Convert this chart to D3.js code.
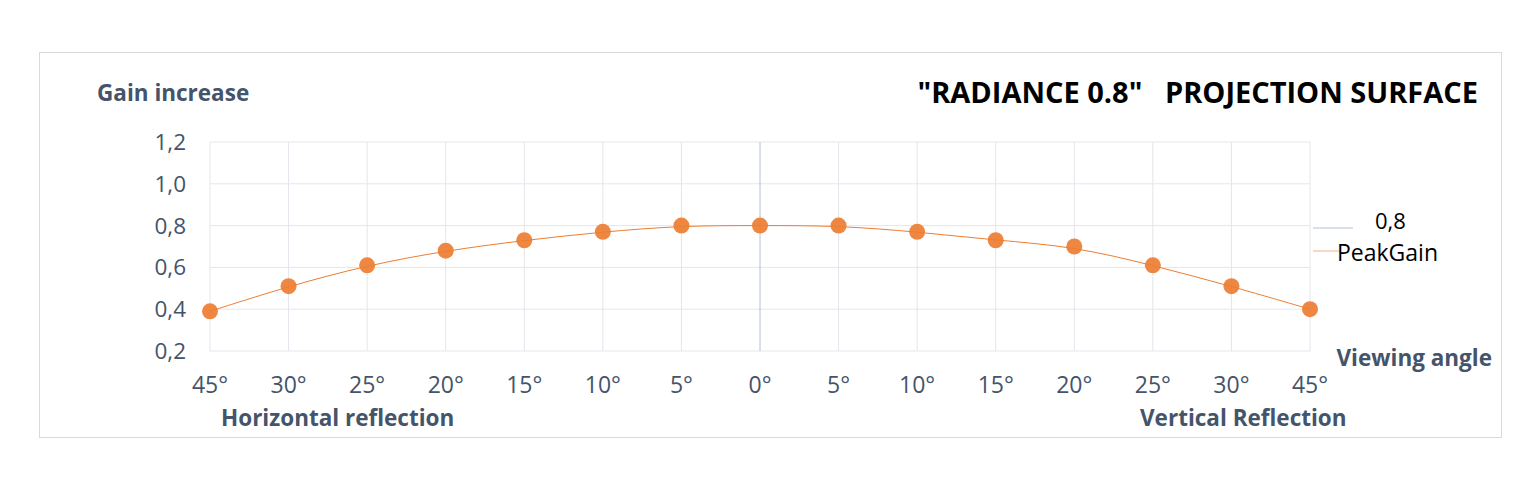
<!DOCTYPE html>
<html><head><meta charset="utf-8">
<script src="https://cdn.jsdelivr.net/npm/d3@7"></script>
<style>body{margin:0;background:#fff;} svg{display:block;}</style>
</head><body>
<svg id="c" width="1530" height="489"></svg>
<script>
const categories = ["45°","30°","25°","20°","15°","10°","5°","0°","5°","10°","15°","20°","25°","30°","45°"];
const gain = [0.39,0.51,0.61,0.68,0.73,0.77,0.80,0.80,0.80,0.77,0.73,0.70,0.61,0.51,0.40];
const yTicks = [0.2,0.4,0.6,0.8,1.0,1.2];
const legendItems = ["0,8","PeakGain"];

const svg = d3.select("#c");
const font = "'Open Sans', sans-serif";
const txt = "#44546a";
const orange = "#ED7D31";

svg.append("rect").attr("x",39.5).attr("y",52.5).attr("width",1462).attr("height",385)
  .attr("fill","#fff").attr("stroke","#d9d9d9");

const x = d3.scalePoint().domain(d3.range(categories.length)).range([210,1310]);
const y = d3.scaleLinear().domain([0.2,1.2]).range([351,142]);

svg.append("g").selectAll("line").data(yTicks).join("line")
  .attr("x1",210).attr("x2",1310).attr("y1",d=>y(d)).attr("y2",d=>y(d))
  .attr("stroke","#e3e6ec").attr("stroke-width",1);
svg.append("g").selectAll("line").data(d3.range(categories.length)).join("line")
  .attr("x1",d=>x(d)).attr("x2",d=>x(d)).attr("y1",y(1.2)).attr("y2",y(0.2))
  .attr("stroke",d=>d===7?"#b4bfd3":"#e3e6ec").attr("stroke-width",1);

svg.append("g").selectAll("text").data(yTicks).join("text")
  .attr("x",186).attr("y",d=>y(d)+8).attr("text-anchor","end")
  .attr("font-family",font).attr("font-size",22.5).attr("fill",txt)
  .text(d=>d3.format(".1f")(d).replace(".",","));

svg.append("g").selectAll("text").data(categories).join("text")
  .attr("x",(d,i)=>x(i)).attr("y",393).attr("text-anchor","middle")
  .attr("font-family",font).attr("font-size",23).attr("fill",txt)
  .text(d=>d);

const line = d3.line().x((d,i)=>x(i)).y(d=>y(d)).curve(d3.curveBasis);
svg.append("path").datum(gain).attr("d",line).attr("fill","none")
  .attr("stroke",orange).attr("stroke-width",1);

svg.append("g").selectAll("circle").data(gain).join("circle")
  .attr("cx",(d,i)=>x(i)).attr("cy",d=>y(d)).attr("r",8).attr("fill",orange).attr("fill-opacity",0.92);

svg.append("text").attr("x",97).attr("y",101).attr("font-family",font).attr("font-weight","bold")
  .attr("font-size",22.5).attr("fill",txt).text("Gain increase");
svg.append("text").attr("x",1478).attr("y",103).attr("text-anchor","end").attr("font-family",font).attr("font-weight","bold")
  .attr("font-size",29).attr("fill","#000").attr("xml:space","preserve").text('"RADIANCE 0.8"   PROJECTION SURFACE');
svg.append("text").attr("x",1492).attr("y",366).attr("text-anchor","end").attr("font-family",font).attr("font-weight","bold")
  .attr("font-size",22.5).attr("fill",txt).text("Viewing angle");
svg.append("text").attr("x",221).attr("y",426).attr("font-family",font).attr("font-weight","bold")
  .attr("font-size",22.5).attr("fill",txt).text("Horizontal reflection");
svg.append("text").attr("x",1140).attr("y",426).attr("font-family",font).attr("font-weight","bold")
  .attr("font-size",22.5).attr("fill",txt).text("Vertical Reflection");

const lg = svg.append("g");
lg.append("line").attr("x1",1313).attr("x2",1353).attr("y1",228).attr("y2",228).attr("stroke","#b4bfd3");
lg.append("line").attr("x1",1313).attr("x2",1340).attr("y1",251).attr("y2",251).attr("stroke","#f4b183");
lg.append("text").attr("x",1375).attr("y",229).attr("font-family",font).attr("font-size",22).attr("fill","#000").text(legendItems[0]);
lg.append("text").attr("x",1337).attr("y",261).attr("font-family",font).attr("font-size",23).attr("fill","#000").text(legendItems[1]);
</script>
</body></html>
